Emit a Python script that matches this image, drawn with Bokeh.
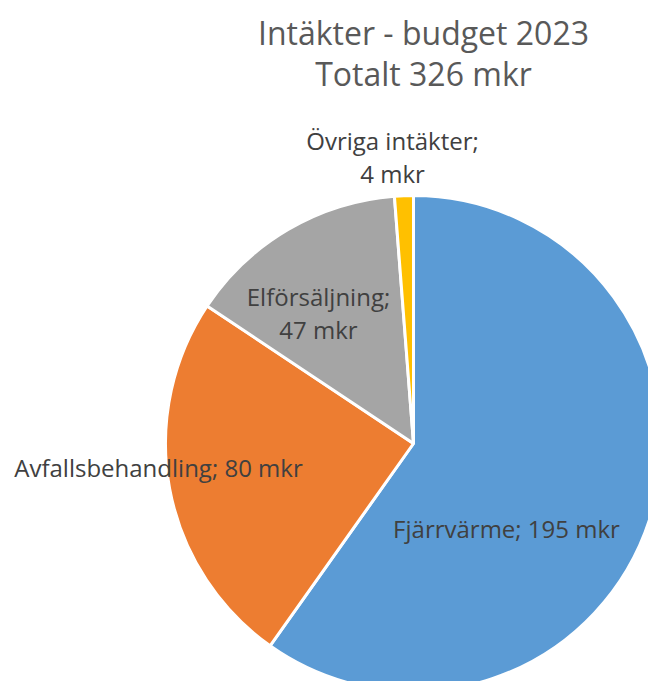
import math
from bokeh.plotting import figure
from bokeh.models import ColumnDataSource, Range1d
from bokeh.core.properties import value
from bokeh.embed import file_html
from bokeh.resources import INLINE

# Data
categories = ["Fjärrvärme", "Avfallsbehandling", "Elförsäljning", "Övriga intäkter"]
values = [195, 80, 47, 4]
colors = ["#5B9BD5", "#ED7D31", "#A5A5A5", "#FFC000"]
title_lines = ["Intäkter - budget 2023", "Totalt 326 mkr"]

W, H = 648, 681
FONT = "Open Sans"

def X(x):
    return x

def Y(y):
    return H - y

p = figure(width=W, height=H, output_backend="svg", toolbar_location=None,
           x_range=Range1d(0, W), y_range=Range1d(0, H), min_border=0)
p.axis.visible = False
p.grid.visible = False
p.outline_line_color = None
p.background_fill_color = "white"

total = sum(values)
starts, ends = [], []
cum = 0.0
for v in values:
    a0 = math.pi / 2 - 2 * math.pi * (cum + v) / total
    a1 = math.pi / 2 - 2 * math.pi * cum / total
    starts.append(a0)
    ends.append(a1)
    cum += v

src = ColumnDataSource(dict(start=starts, end=ends, color=colors, cat=categories, val=values))
cx, cy, r = X(413), Y(443), 248
p.wedge(x=cx, y=cy, radius=r, start_angle="start", end_angle="end",
        fill_color="color", line_color="white", line_width=3, source=src)

# Title
p.text(x=[X(423)] * 2, y=[Y(32), Y(73)], text=title_lines,
       text_font=value(FONT), text_font_size="32px", text_color="#595959",
       text_align="center", text_baseline="middle")

# Labels
lab = [
    (392, 140, f"{categories[3]};"),
    (392, 173, f"{values[3]} mkr"),
    (318, 296, f"{categories[2]};"),
    (318, 329, f"{values[2]} mkr"),
    (158, 467, f"{categories[1]}; {values[1]} mkr"),
    (506, 528, f"{categories[0]}; {values[0]} mkr"),
]
p.text(x=[X(a) for a, _, _ in lab], y=[Y(b) for _, b, _ in lab], text=[t for _, _, t in lab],
       text_font=value(FONT), text_font_size="24px", text_color="#404040",
       text_align="center", text_baseline="middle")

open("out.html", "w").write(file_html(p, INLINE))
